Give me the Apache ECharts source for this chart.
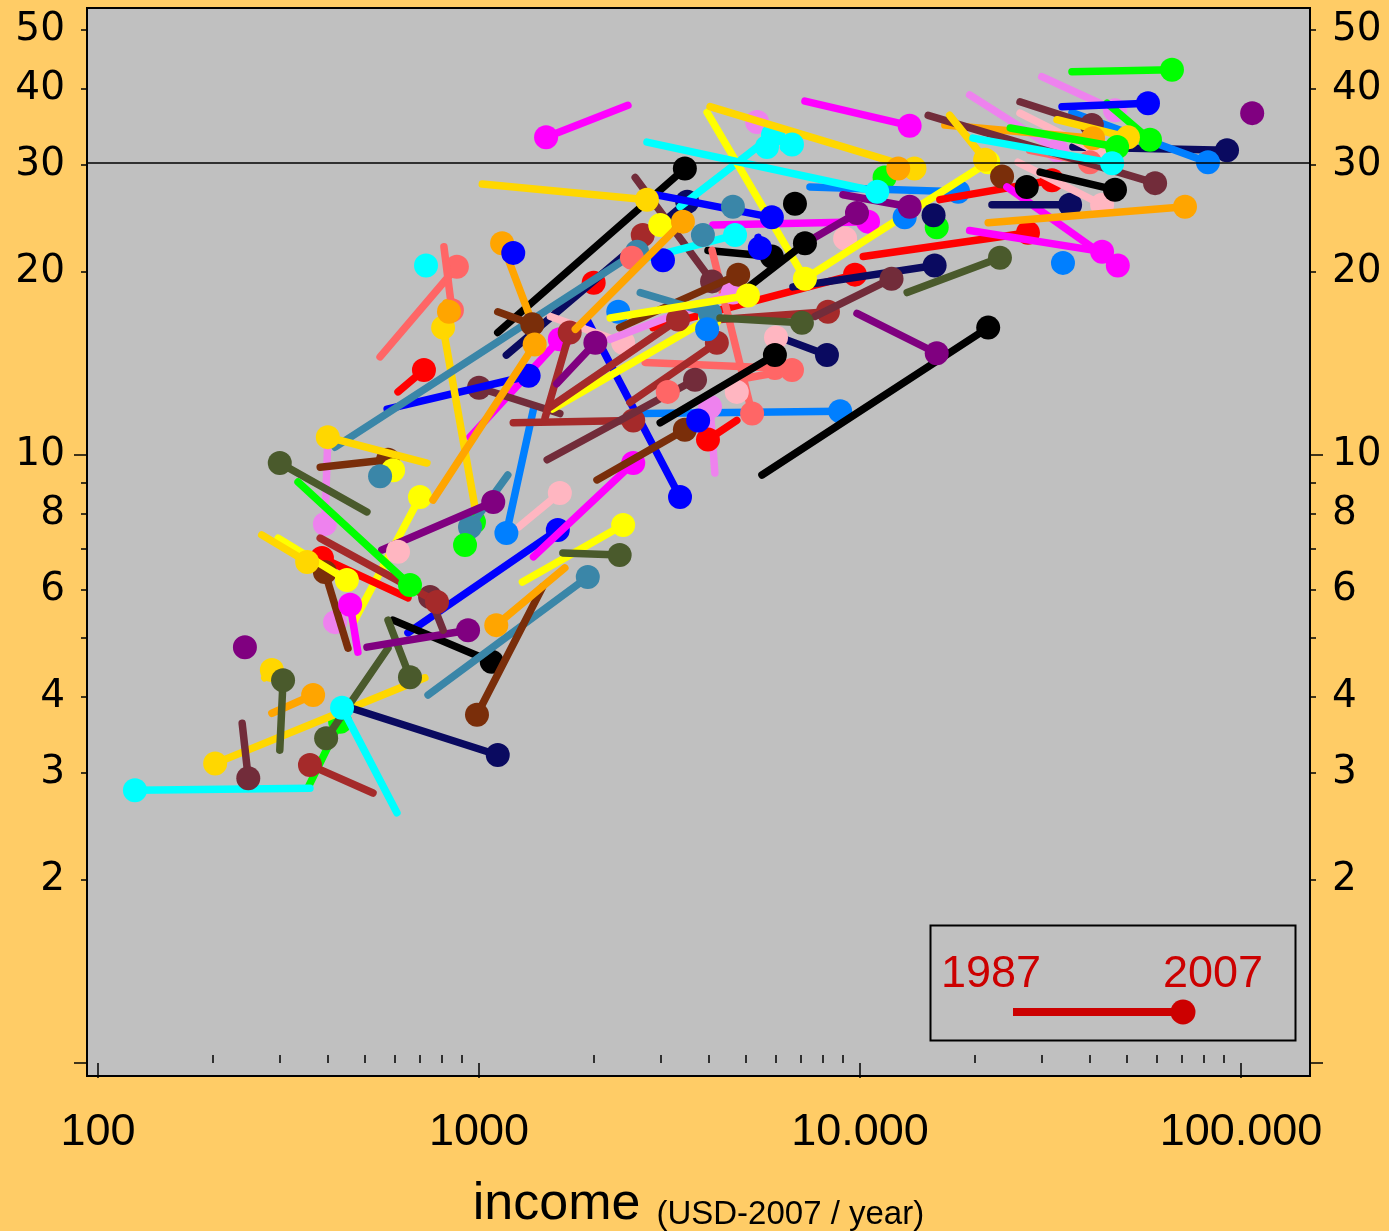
<!DOCTYPE html>
<html>
<head>
<meta charset="utf-8">
<script src="https://cdn.jsdelivr.net/npm/echarts@6/dist/echarts.min.js"></script>
<style>
html, body { margin: 0; padding: 0; background: #FFCC66; }
#chart { width: 1389px; height: 1231px; }
</style>
</head>
<body>
<div id="chart"></div>
<script>
// one row per country: [income 1987, value 1987, income 2007, value 2007]
var red = [[613,12.7,717,13.8],[1560,17.5,2000,19.2],[2860,16.2,9700,19.8],[4750,11.4,3990,10.6],[10200,21.2,27600,23.2],[16200,26.3,31900,28.3],[651,5.82,387,6.77]];
var blue = [[651,5.10,1610,7.53],[1920,16.7,3370,8.53],[574,11.9,1350,13.5],[1250,21.0,1230,21.5],[2900,26.8,5870,24.6],[5400,22.8,5460,21.9],[3600,11.6,3760,11.4],[33900,37.4,57000,37.9],[3000,20.5,3040,20.9]];
var green = [[356,2.84,432,3.64],[960,7.9,970,7.76],[905,7.2,919,7.11],[11300,28.2,11600,28.6],[15500,23.3,15900,23.7],[36000,42.7,65900,43.0],[44500,37.9,57700,33.0],[24800,34.5,47300,32.1],[335,9.03,659,6.11]];
var cyan = [[360,2.83,125,2.81],[609,2.58,437,3.84],[715,20.8,726,20.5],[3370,25.6,5910,33.6],[2760,21.1,4700,23.0],[2760,32.7,11100,27.1],[6300,32.0,6630,32.4],[5500,31.5,5700,32.1],[19800,33.2,45900,30.2]];
var magenta = [[1390,6.80,2540,9.70],[947,10.7,1630,15.5],[7170,38.2,13500,34.8],[4110,23.9,10500,24.2],[2460,37.6,1500,33.3],[19400,23.4,43200,21.6],[24300,27.6,47500,20.5],[481,4.74,459,5.67]];
var yellow = [[1300,6.18,2390,7.67],[467,5.29,700,8.53],[585,9.2,595,9.44],[3970,36.6,7170,19.5],[7170,19.5,21700,30.3],[1560,11.9,4040,16.8],[2210,16.8,5080,18.3],[297,7.30,450,6.23],[2900,23.5,2990,23.9]];
var gold = [[721,4.30,203,3.11],[274,4.30,286,4.43],[977,8.18,805,16.2],[730,9.70,401,10.7],[1020,27.9,2760,26.3],[4040,37.4,13900,29.6],[32900,35.6,50500,33.3],[17200,36.2,21300,30.6],[269,7.39,354,6.67]];
var orange = [[286,3.76,367,4.03],[1680,6.52,1110,5.25],[1360,16.9,1150,22.3],[757,8.43,1400,15.2],[820,17.8,834,17.2],[12300,29.3,12600,29.6],[16700,34.9,40900,33.2],[21700,24.1,71300,25.6],[1790,16.1,3430,24.2]];
var black = [[595,5.35,1080,4.57],[1120,15.9,3470,29.6],[3990,21.7,5870,21.2],[6500,25.5,6750,25.9],[4990,18.7,7170,22.3],[5530,9.27,21700,16.2],[2990,11.3,5980,14.6],[29700,29.2,46700,27.3],[26500,28.0,27400,27.6]];
var navy = [[459,3.84,1120,3.21],[1180,14.6,3520,26.1],[6670,18.9,15700,20.5],[6170,15.6,8190,14.6],[15000,24.5,15600,24.8],[36200,32.1,91900,31.7],[22200,25.8,35600,25.8]];
var olive = [[577,4.81,397,3.42],[577,5.35,659,4.31],[300,3.27,306,4.26],[508,8.06,300,9.7],[1660,6.90,2340,6.85],[13300,18.5,23300,21.1],[4290,16.8,7040,16.5]];
var violet = [[401,10.6,394,7.70],[5200,35.0,5370,35.3],[4160,9.34,4040,12.0],[2210,15.5,4640,18.5],[30000,41.9,46700,36.9],[19400,39.1,32900,31.7],[410,5.2,419,5.31]];
var pink = [[1270,7.61,1630,8.66],[1540,16.9,2390,15.3],[8800,22.4,9140,22.7],[5800,15.8,6020,15.6],[4600,12.4,4750,12.7],[26300,36.5,42100,31.5],[26000,30.3,43200,25.8],[590,7.1,613,6.93]];
var salmon = [[550,14.5,875,20.4],[809,22.0,849,17.3],[4090,21.7,5210,11.7],[2730,14.2,5980,13.9],[5080,13.4,6630,13.8],[3000,12.5,3130,12.7],[27900,31.7,40100,30.3],[2450,20.8,2520,21.1]];
var steel = [[735,4.03,1930,6.30],[1190,9.27,947,7.61],[419,10.3,2600,21.6],[535,9.1,550,9.23],[4500,25.9,4640,25.6],[2650,18.5,4040,17.1],[3750,23.2,3870,23.0]];
var dodger = [[1390,11.9,1180,7.44],[2690,11.7,8870,11.8],[2250,17.0,2320,17.2],[7390,27.6,18100,27.1],[12500,24.5,13100,24.6],[36000,36.6,81900,30.3],[33500,20.9,34100,20.7],[3850,15.8,3970,16.1]];
var brown = [[1470,6.07,988,3.74],[383,9.55,577,9.82],[1120,17.2,1380,16.4],[2040,9.10,3470,11.0],[2340,16.2,4790,19.8],[23000,29.0,23600,28.7],[453,4.81,394,6.42]];
var maroon = [[239,3.62,248,2.94],[1630,11.7,1000,12.9],[2570,28.6,4090,19.3],[7620,16.9,12100,19.5],[1510,9.82,3690,13.3],[26300,38.1,40600,34.9],[15100,36.2,59500,28.0],[805,5.15,744,5.84]];
var firebrick = [[527,2.78,360,3.09],[2650,22.5,2690,23.0],[4290,16.7,8240,17.2],[1230,11.3,2540,11.4],[2490,12.2,4210,15.3],[1540,12.0,3330,16.7],[1490,11.5,1730,15.9],[383,7.30,776,5.73]];
var purple = [[240,4.8,243,4.83],[508,4.83,936,5.15],[556,6.98,1090,8.37],[7530,22.7,9820,25.0],[9020,26.8,13500,25.6],[9820,17.1,15900,14.7],[1600,13.1,2020,15.3],[104000,36.3,107000,36.5]];

var xMajorTicks = [100, 1000, 10000, 100000];
var xMinorTicks = [200,300,400,500,600,700,800,900,2000,3000,4000,5000,6000,7000,8000,9000,20000,30000,40000,50000,60000,70000,80000,90000];
var yLabels = [2, 3, 4, 6, 8, 10, 20, 30, 40, 50];
var yMinorTicks = [2, 3, 4, 5, 6, 7, 8, 9, 20, 30, 40, 50];
var yMajorTicks = [1, 10];
var refLevel = 30;

var groups = [
  ['#FF0000', red], ['#0000FF', blue], ['#00FF00', green], ['#00FFFF', cyan],
  ['#FF00FF', magenta], ['#FFFF00', yellow], ['#FFD700', gold], ['#FFA500', orange],
  ['#000000', black], ['#0A0A60', navy], ['#4A5A2C', olive], ['#EE82EE', violet],
  ['#FFB6C1', pink], ['#FF6666', salmon], ['#3A86A8', steel], ['#007FFF', dodger],
  ['#7A2E0A', brown], ['#722C3A', maroon], ['#A52A2A', firebrick], ['#800080', purple]
];

var lg = function (v) { return Math.log10(v); };

// interleave the colour groups so no single colour ends up all on top
var segData = [];
for (var i = 0; i < 10; i++) {
  groups.forEach(function (g) {
    var s = g[1][i];
    if (s) segData.push({ value: [lg(s[0]), lg(s[1]), lg(s[2]), lg(s[3])], itemStyle: { color: g[0] } });
  });
}

var xMin = 1.97113, xMax = 5.18113;
var yMin = -0.0214, yMax = 1.7352;

var tickStyle = { color: '#000', width: 1.5 };
var yLabelStyle = {
  fontFamily: 'DejaVu Sans', fontSize: 39, color: '#000', margin: 22,
  padding: [7, 0, 0, 0],
  customValues: yLabels.map(lg),
  formatter: function (v) { return String(Math.round(Math.pow(10, v))); }
};

function yAxisPair(pos) {
  return [{
    type: 'value', position: pos, min: yMin, max: yMax,
    axisLine: { show: false }, splitLine: { show: false },
    axisTick: { show: true, length: 6, lineStyle: tickStyle, customValues: yMinorTicks.map(lg) },
    axisLabel: yLabelStyle
  }, {
    type: 'value', position: pos, min: yMin, max: yMax,
    axisLine: { show: false }, splitLine: { show: false },
    axisTick: { show: true, length: 13, lineStyle: tickStyle, customValues: yMajorTicks.map(lg) },
    axisLabel: { show: false }
  }];
}

var chart = echarts.init(document.getElementById('chart'));
chart.setOption({
  backgroundColor: '#FFCC66',
  animation: false,
  grid: {
    left: 87, right: 79, top: 8, bottom: 155,
    outerBoundsMode: 'none', containLabel: false,
    show: true, backgroundColor: '#C0C0C0', borderColor: '#000', borderWidth: 2
  },
  xAxis: [{
    type: 'value', min: xMin, max: xMax,
    axisLine: { show: false }, splitLine: { show: false },
    axisTick: { show: true, length: 15, lineStyle: tickStyle, customValues: xMajorTicks.map(lg) },
    axisLabel: {
      fontFamily: 'Liberation Sans', fontSize: 45, color: '#000', margin: 34,
      customValues: xMajorTicks.map(lg),
      formatter: function (v) {
        var n = Math.round(Math.pow(10, v));
        return n >= 10000 ? String(n).replace(/\B(?=(\d{3})+(?!\d))/g, '.') : String(n);
      }
    },
    name: '{a|income}{s| }{b|(USD-2007 / year)}',
    nameLocation: 'middle', nameGap: 95,
    nameTextStyle: {
      rich: {
        a: { fontFamily: 'Liberation Sans', fontSize: 52, lineHeight: 60, color: '#000', verticalAlign: 'bottom' },
        s: { width: 16, lineHeight: 40, verticalAlign: 'bottom' },
        b: { fontFamily: 'Liberation Sans', fontSize: 33, lineHeight: 40, color: '#000', verticalAlign: 'bottom' }
      }
    }
  }, {
    type: 'value', min: xMin, max: xMax,
    axisLine: { show: false }, splitLine: { show: false },
    axisTick: { show: true, length: 8, lineStyle: tickStyle, customValues: xMinorTicks.map(lg) },
    axisLabel: { show: false }
  }],
  yAxis: yAxisPair('left').concat(yAxisPair('right')),
  series: [{
    type: 'custom',
    xAxisIndex: 0, yAxisIndex: 0,
    clip: true,
    encode: { x: [0, 2], y: [1, 3] },
    data: segData,
    renderItem: function (params, api) {
      var a = api.coord([api.value(0), api.value(1)]);
      var b = api.coord([api.value(2), api.value(3)]);
      var c = api.visual('color');
      return {
        type: 'group',
        children: [
          { type: 'line', shape: { x1: a[0], y1: a[1], x2: b[0], y2: b[1] }, style: { stroke: c, lineWidth: 7.5, lineCap: 'round' } },
          { type: 'circle', shape: { cx: b[0], cy: b[1], r: 12 }, style: { fill: c } }
        ]
      };
    }
  }, {
    type: 'line',
    xAxisIndex: 0, yAxisIndex: 0,
    data: [],
    z: 10,
    markLine: {
      silent: true, symbol: 'none', label: { show: false },
      lineStyle: { color: '#000', width: 1.5, type: 'solid' },
      data: [{ yAxis: lg(refLevel) }]
    }
  }],
  graphic: [
    { type: 'rect', left: 928, top: 923, shape: { width: 365, height: 115 }, style: { fill: 'none', stroke: '#000', lineWidth: 2 }, z: 20 },
    { type: 'text', left: 941, top: 952, style: { text: '1987', fill: '#CC0000', font: '45px "Liberation Sans"' }, z: 20 },
    { type: 'text', left: 1163, top: 952, style: { text: '2007', fill: '#CC0000', font: '45px "Liberation Sans"' }, z: 20 },
    { type: 'line', shape: { x1: 1013, y1: 1012, x2: 1183, y2: 1012 }, style: { stroke: '#CC0000', lineWidth: 8 }, z: 20 },
    { type: 'circle', shape: { cx: 1183, cy: 1012, r: 12.5 }, style: { fill: '#CC0000' }, z: 20 }
  ]
});
</script>
</body>
</html>
